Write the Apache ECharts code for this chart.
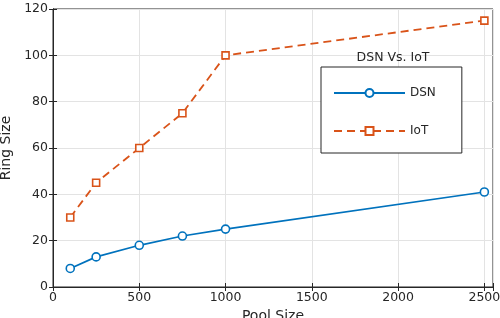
<!DOCTYPE html>
<html><head><meta charset="utf-8">
<script src="https://cdn.jsdelivr.net/npm/echarts@6/dist/echarts.min.js"></script>
<style>html,body{margin:0;padding:0;background:#fff}#c{width:500px;height:318px}</style>
</head><body><div id="c"></div>
<script>
const poolSize = [100, 250, 500, 750, 1000, 2500];
const dsn = [8, 13, 18, 22, 25, 41];
const iot = [30, 45, 60, 75, 100, 115];
const xTicks = [0, 500, 1000, 1500, 2000, 2500];
const yTicks = [0, 20, 40, 60, 80, 100, 120];

const chart = echarts.init(document.getElementById('c'), null, {renderer: 'canvas'});
const font = '"DejaVu Sans", sans-serif';
const ink = '#262626';
const tick = {show: true, inside: true, length: 4, lineStyle: {color: ink}};
chart.setOption({
  animation: false,
  backgroundColor: '#fff',
  grid: {left: 53, right: 7, top: 9, bottom: 31, show: true, borderColor: ink, borderWidth: 1,
    containLabel: false, outerBoundsMode: 'none'},
  title: {text: 'DSN Vs. IoT', left: 391, top: 49, textAlign: 'center', padding: 2,
    textStyle: {fontFamily: font, fontSize: 12.5, fontWeight: 'normal', color: ink}},
  legend: {
    orient: 'vertical', left: 321, top: 67,
    padding: [20, 26, 16, 12], itemGap: 26, itemWidth: 71, itemHeight: 10,
    borderColor: ink, borderWidth: 1, backgroundColor: '#fff',
    textStyle: {fontFamily: font, fontSize: 12, color: ink},
    data: ['DSN', 'IoT']
  },
  xAxis: [{
    type: 'value', min: 0, max: 2550, interval: 500,
    name: 'Pool Size', nameLocation: 'middle', nameGap: 16,
    nameTextStyle: {fontFamily: font, fontSize: 14, color: ink},
    axisLine: {show: true, lineStyle: {color: ink}},
    axisTick: tick,
    axisLabel: {fontFamily: font, fontSize: 12.5, color: ink, margin: 4,
      formatter: v => xTicks.includes(v) ? String(v) : ''},
    splitLine: {show: true, lineStyle: {color: '#e3e3e3'}}
  }, {
    type: 'value', position: 'top', min: 0, max: 2550, interval: 500,
    axisLine: {show: true, lineStyle: {color: ink}}, axisTick: tick,
    axisLabel: {show: false}, splitLine: {show: false}
  }],
  yAxis: [{
    type: 'value', min: 0, max: 120, interval: 20,
    name: 'Ring Size', nameLocation: 'middle', nameGap: 31,
    nameTextStyle: {fontFamily: font, fontSize: 14, color: ink},
    axisLine: {show: true, lineStyle: {color: ink}},
    axisTick: tick,
    axisLabel: {fontFamily: font, fontSize: 12.5, color: ink, margin: 5,
      formatter: v => yTicks.includes(v) ? String(v) : ''},
    splitLine: {show: true, lineStyle: {color: '#e3e3e3'}}
  }, {
    type: 'value', position: 'right', min: 0, max: 120, interval: 20,
    axisLine: {show: true, lineStyle: {color: ink}}, axisTick: tick,
    axisLabel: {show: false}, splitLine: {show: false}
  }],
  series: [
    {name: 'DSN', type: 'line', data: poolSize.map((x, i) => [x, dsn[i]]),
     lineStyle: {width: 1.7, color: '#0072BD'},
     symbol: 'circle', symbolSize: 8,
     itemStyle: {color: '#fff', borderColor: '#0072BD', borderWidth: 1.6}},
    {name: 'IoT', type: 'line', data: poolSize.map((x, i) => [x, iot[i]]),
     lineStyle: {width: 1.8, color: '#D95319', type: [8, 5]},
     symbol: 'rect', symbolSize: 7,
     itemStyle: {color: '#fff', borderColor: '#D95319', borderWidth: 1.6}}
  ]
});
</script></body></html>
